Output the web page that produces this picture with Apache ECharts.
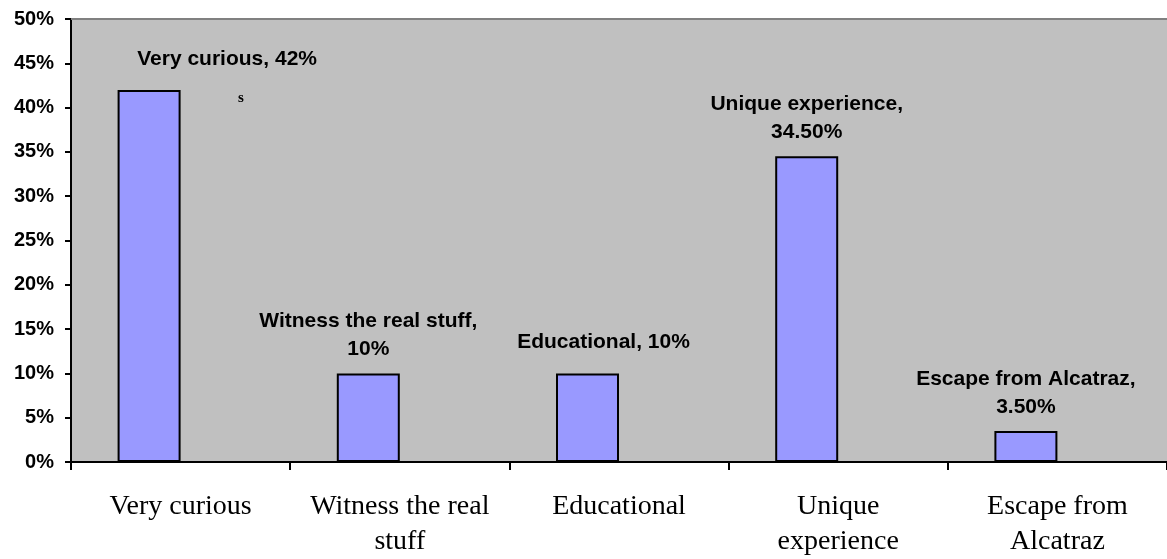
<!DOCTYPE html>
<html><head><meta charset="utf-8">
<script src="https://cdn.jsdelivr.net/npm/echarts@6/dist/echarts.min.js"></script>
<style>html,body{margin:0;padding:0;background:#fff}#c{width:1167px;height:559px}</style>
</head><body><div id="c"></div>
<script>
var categories = ["Very curious", "Witness the real stuff", "Educational", "Unique experience", "Escape from Alcatraz"];
var xTickLabels = ["Very curious", "Witness the real\nstuff", "Educational", "Unique\nexperience", "Escape from\nAlcatraz"];
var values = [42, 10, 10, 34.5, 3.5];
var dataLabels = ["Very curious, 42%", "Witness the real stuff,\n10%", "Educational, 10%", "Unique experience,\n34.50%", "Escape from Alcatraz,\n3.50%"];
var labelOffsets = [[78, -7], [0, 0], [16, -7], [0, 0], [0, 0]];

var chart = echarts.init(document.getElementById('c'));
chart.setOption({
  animation: false,
  grid: {left: 71, right: 0, top: 19, bottom: 96, show: true, backgroundColor: '#C0C0C0', borderWidth: 0},
  graphic: [
    {type: 'line', shape: {x1: 71, y1: 19, x2: 1167, y2: 19}, style: {stroke: '#808080', lineWidth: 2}, z: 10},
    {type: 'text', left: 238, top: 91, style: {text: 's', font: 'bold 15px Liberation Serif', fill: '#000'}, z: 10}
  ],
  xAxis: {
    type: 'category', data: categories,
    axisLine: {lineStyle: {color: '#000', width: 2}},
    axisTick: {show: true, interval: 0, length: 8, lineStyle: {color: '#000', width: 2}},
    axisLabel: {
      interval: 0, hideOverlap: false,
      formatter: function (v, i) { return xTickLabels[i]; },
      fontFamily: 'Liberation Serif, Times New Roman', fontSize: 28, color: '#000', lineHeight: 35, margin: 27
    }
  },
  yAxis: {
    type: 'value', min: 0, max: 50, interval: 5,
    axisLine: {show: true, lineStyle: {color: '#000', width: 2}},
    axisTick: {show: true, length: 6, lineStyle: {color: '#000', width: 2}},
    splitLine: {show: false},
    axisLabel: {formatter: function (v) { return v + '%'; }, margin: 17, fontFamily: 'Liberation Sans, Arial', fontWeight: 'bold', fontSize: 20, color: '#000'}
  },
  series: [
    {
      type: 'bar', barWidth: 63, barGap: '0%',
      itemStyle: {color: '#9999FF', borderColor: '#000', borderWidth: 2},
      data: values.map(function (v, i) {
        return {value: v, label: {show: true, position: 'top', distance: 10, offset: labelOffsets[i],
          formatter: dataLabels[i], lineHeight: 28, align: 'center',
          fontFamily: 'Liberation Sans, Arial', fontWeight: 'bold', fontSize: 21, color: '#000'}};
      })
    },
    {type: 'bar', barWidth: 63, data: values.map(function () { return null; })}
  ]
});
</script></body></html>
